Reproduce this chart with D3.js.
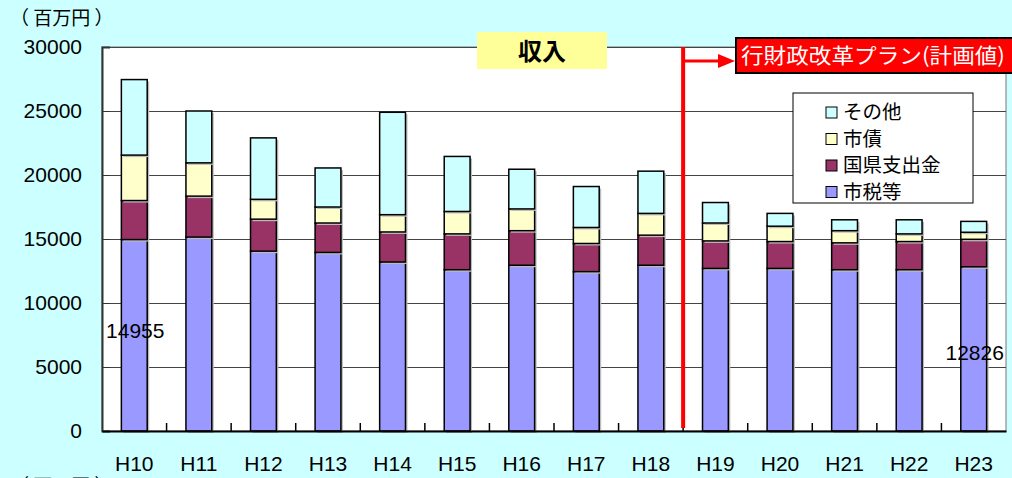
<!DOCTYPE html>
<html>
<head>
<meta charset="utf-8">
<script src="https://cdn.jsdelivr.net/npm/d3@7"></script>
<style>
  body { margin: 0; background: #CCFFFF; }
  svg { display: block; }
  text { font-family: "Liberation Sans", Arial, "Noto Sans CJK JP", sans-serif; fill: #000; }
  .jp { font-family: "Noto Sans CJK JP", sans-serif; }
</style>
</head>
<body>
<div id="chart"></div>
<script>
// fiscal years
const years = ["H10", "H11", "H12", "H13", "H14", "H15", "H16", "H17", "H18", "H19", "H20", "H21", "H22", "H23"];
// 市税等
const shizei = [14955, 15150, 14050, 13950, 13200, 12600, 12950, 12450, 12950, 12700, 12700, 12600, 12600, 12826];
// 国県支出金
const kokuken = [3050, 3200, 2500, 2300, 2350, 2800, 2700, 2200, 2350, 2150, 2100, 2100, 2200, 2150];
// 市債
const shisai = [3550, 2600, 1550, 1250, 1350, 1750, 1700, 1250, 1700, 1400, 1200, 950, 600, 550];
// その他
const sonota = [5900, 4050, 4800, 3050, 8000, 4300, 3100, 3200, 3300, 1600, 1000, 850, 1100, 850];

const seriesNames = ["市税等", "国県支出金", "市債", "その他"];
const seriesColors = ["#9999FF", "#993366", "#FFFFCC", "#CCFFFF"];
const yTicks = [0, 5000, 10000, 15000, 20000, 25000, 30000];

const width = 1012, height = 478;
const margin = {top: 47, right: 6, bottom: 47, left: 102};

let svg = d3.select("#chart").append("svg")
    .attr("width", width)
    .attr("height", height);

let x = d3.scaleBand()
    .domain(years)
    .range([margin.left, width - margin.right])
    .paddingInner(0.6)
    .paddingOuter(0.3);

let y = d3.scaleLinear()
    .domain([0, 30000])
    .range([height - margin.bottom, margin.top]);

// plot area
svg.append("rect")
    .attr("x", margin.left)
    .attr("y", margin.top)
    .attr("width", width - margin.right - margin.left)
    .attr("height", y(0) - margin.top)
    .attr("fill", "#fff")
    .attr("stroke", "#777")
    .attr("stroke-width", 1);

// gridlines
svg.append("g").selectAll("line").data(yTicks.filter(d => d > 0)).enter().append("line")
    .attr("x1", margin.left)
    .attr("x2", width - margin.right)
    .attr("y1", d => y(d) + 0.5)
    .attr("y2", d => y(d) + 0.5)
    .attr("stroke", "#444")
    .attr("stroke-width", 1);

// stacked bars
let table = years.map((yr, i) => ({year: yr, 0: shizei[i], 1: kokuken[i], 2: shisai[i], 3: sonota[i]}));
let stacked = d3.stack().keys([0, 1, 2, 3])(table);

let layers = svg.append("g").selectAll("g").data(stacked).enter().append("g")
    .attr("fill", (d, i) => seriesColors[i]);

// faint shadow
layers.selectAll("rect.shadow").data(d => d).enter().append("rect")
    .attr("x", d => x(d.data.year) + 2)
    .attr("y", d => y(d[1]) + 2)
    .attr("width", x.bandwidth())
    .attr("height", d => y(d[0]) - y(d[1]))
    .attr("fill", "#bbb");

layers.selectAll("rect.bar").data(d => d).enter().append("rect")
    .attr("x", d => x(d.data.year))
    .attr("y", d => y(d[1]))
    .attr("width", x.bandwidth())
    .attr("height", d => y(d[0]) - y(d[1]))
    .attr("stroke", "#000")
    .attr("stroke-width", 1.5);

// axes
let yAxis = d3.axisLeft(y).tickValues(yTicks).tickSize(-8).tickPadding(20).tickFormat(d3.format("d"));
let yg = svg.append("g").attr("transform", `translate(${margin.left},0)`).call(yAxis);
yg.select(".domain").attr("stroke", "#333").attr("stroke-width", 2);
yg.selectAll("line").attr("stroke", "#333");
yg.selectAll("text").attr("font-size", 21).attr("font-family", "Liberation Sans, Arial, sans-serif");

let xAxis = d3.axisBottom(x).tickSize(0).tickPadding(25);
let xg = svg.append("g").attr("transform", `translate(0,${y(0)})`).call(xAxis);
xg.select(".domain").attr("stroke", "#000").attr("stroke-width", 2);
xg.selectAll("text").attr("font-size", 21).attr("font-family", "Liberation Sans, Arial, sans-serif");

// category boundary ticks
let step = x.step();
svg.append("g").selectAll("line").data(years.slice(1)).enter().append("line")
    .attr("x1", d => x(d) - (step - x.bandwidth()) / 2)
    .attr("x2", d => x(d) - (step - x.bandwidth()) / 2)
    .attr("y1", y(0))
    .attr("y2", y(0) - 8)
    .attr("stroke", "#000")
    .attr("stroke-width", 1.5);

// unit labels
svg.append("text").attr("class", "jp").attr("x", 10).attr("y", 25)
    .attr("font-size", 19).attr("xml:space", "preserve").text("（ 百万円 ）");
svg.append("text").attr("class", "jp").attr("x", 10).attr("y", 493)
    .attr("font-size", 19).attr("xml:space", "preserve").text("（ 百万円 ）");

// value labels
svg.append("text")
    .attr("x", x(years[0]) + x.bandwidth() / 2 + 1)
    .attr("y", 338)
    .attr("text-anchor", "middle")
    .attr("font-size", 21)
    .text(shizei[0]);
svg.append("text")
    .attr("x", x(years[13]) + x.bandwidth() / 2 + 1)
    .attr("y", 360)
    .attr("text-anchor", "middle")
    .attr("font-size", 21)
    .text(shizei[13]);

// plan divider
let divX = x("H19") - (step - x.bandwidth()) / 2;
svg.append("line")
    .attr("x1", divX).attr("x2", divX)
    .attr("y1", margin.top).attr("y2", y(0) - 3)
    .attr("stroke", "#FF0000").attr("stroke-width", 4);
svg.append("line")
    .attr("x1", divX).attr("x2", 722)
    .attr("y1", 61).attr("y2", 61)
    .attr("stroke", "#FF0000").attr("stroke-width", 3);
svg.append("path")
    .attr("d", "M718,54 L735,61 L718,68 Z")
    .attr("fill", "#FF0000");

svg.append("rect")
    .attr("x", 736).attr("y", 38).attr("width", 280).attr("height", 35)
    .attr("fill", "#FF0000").attr("stroke", "#000").attr("stroke-width", 2);
svg.append("text").attr("class", "jp")
    .attr("x", 741).attr("y", 63)
    .attr("font-size", 21)
    .attr("textLength", 264)
    .attr("lengthAdjust", "spacingAndGlyphs")
    .style("fill", "#fff")
    .text("行財政改革プラン(計画値)");

// title
svg.append("rect")
    .attr("x", 477).attr("y", 32).attr("width", 130).attr("height", 37)
    .attr("fill", "#FFFF99");
svg.append("text").attr("class", "jp")
    .attr("x", 542).attr("y", 60)
    .attr("text-anchor", "middle")
    .attr("font-size", 24)
    .attr("font-weight", "bold")
    .text("収入");

// legend
let legend = svg.append("g").attr("transform", "translate(793,93)");
legend.append("rect")
    .attr("width", 180).attr("height", 110)
    .attr("fill", "#fff").attr("stroke", "#000").attr("stroke-width", 1);
let legendOrder = [3, 2, 1, 0];
let items = legend.selectAll("g").data(legendOrder).enter().append("g")
    .attr("transform", (d, i) => `translate(33,${14 + i * 26.5})`);
items.append("rect")
    .attr("width", 11).attr("height", 11)
    .attr("fill", d => seriesColors[d])
    .attr("stroke", "#000").attr("stroke-width", 1);
items.append("text").attr("class", "jp")
    .attr("x", 17).attr("y", 12)
    .attr("font-size", 19.5)
    .text(d => seriesNames[d]);
</script>
</body>
</html>
